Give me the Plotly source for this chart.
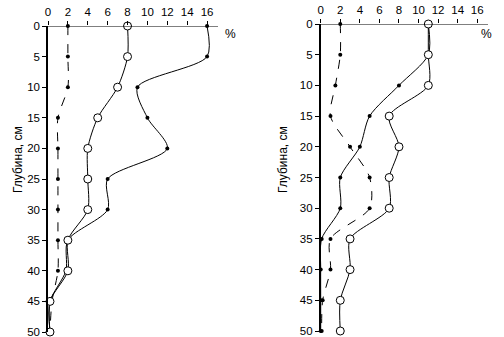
import plotly.graph_objects as go

depth = [0, 5, 10, 15, 20, 25, 30, 35, 40, 45, 50]
x_ticks = [0, 2, 4, 6, 8, 10, 12, 14, 16]
y_ticks = [0, 5, 10, 15, 20, 25, 30, 35, 40, 45, 50]

# Left panel
left_dashed = [2, 2, 2, 1, 1, 1, 1, 1, 1, 0.4, 0.2]
left_open = [8, 8, 7, 5, 4, 4, 4, 2, 2, 0.2, 0.2]
left_filled = [16, 16, 9, 10, 12, 6, 6, 2, 1.8, 0.2, 0.2]

# Right panel
right_dashed = [2, 2, 1.5, 1, 3, 5, 5, 1, 1, 0.2, 0.1]
right_filled = [11, 11, 8, 5, 4, 2, 2, 0.1, 0, 0, 0]
right_open = [11, 11, 11, 7, 8, 7, 7, 3, 3, 2, 2]

FONT = "Liberation Sans, Arial, sans-serif"

W, H = 504, 337

def px(x):
    return x / W

def py(y):
    return 1 - y / H

fig = go.Figure()

def add(x, xa, ya, dash, marker):
    if marker == "open":
        m = dict(symbol="circle", size=8, color="white", line=dict(color="black", width=1))
    else:
        m = dict(symbol="circle", size=4, color="black")
    fig.add_trace(go.Scatter(
        x=x, y=depth, xaxis=xa, yaxis=ya, mode="lines+markers",
        line=dict(color="black", width=1, dash=dash, shape="spline", smoothing=0.8),
        marker=m, cliponaxis=False, showlegend=False))

add(left_dashed, "x", "y", "dash", "filled")
add(left_filled, "x", "y", "solid", "filled")
add(left_open, "x", "y", "solid", "open")
add(right_dashed, "x2", "y2", "dash", "filled")
add(right_filled, "x2", "y2", "solid", "filled")
add(right_open, "x2", "y2", "solid", "open")

xcommon = dict(range=[0, 17.1], tickvals=x_ticks, side="top", showgrid=False, zeroline=False,
               showline=False, ticks="outside", ticklen=4, tickcolor="black", automargin=False,
               ticklabeloverflow="allow",
               tickfont=dict(family=FONT, size=11.5, color="black"))
ycommon = dict(range=[50, 0], tickvals=y_ticks, showgrid=False, zeroline=False, automargin=False,
               showline=True, linecolor="black", linewidth=1.5, ticks="outside", ticklen=4,
               ticklabeloverflow="allow",
               tickcolor="black", tickfont=dict(family=FONT, size=11.5, color="black"))

fig.update_layout(
    width=W, height=H, margin=dict(l=0, r=0, t=0, b=0),
    plot_bgcolor="white", paper_bgcolor="white",
    xaxis=dict(domain=[px(48), px(218)], anchor="y", **xcommon),
    yaxis=dict(domain=[py(332), py(26)], anchor="x", **ycommon),
    xaxis2=dict(domain=[px(320.7), px(488)], anchor="y2", **xcommon),
    yaxis2=dict(domain=[py(331), py(24)], anchor="x2", **ycommon),
)

# horizontal top axis lines at depth 0
fig.add_shape(type="line", xref="x", yref="y", x0=0, x1=17.1, y0=0, y1=0,
              line=dict(color="black", width=1))
fig.add_shape(type="line", xref="x2", yref="y2", x0=0, x1=17.1, y0=0, y1=0,
              line=dict(color="black", width=1))

fig.add_annotation(text="%", xref="paper", yref="paper", x=px(230), y=py(25),
                   showarrow=False, font=dict(family=FONT, size=12, color="black"))
fig.add_annotation(text="%", xref="paper", yref="paper", x=px(494), y=py(25),
                   showarrow=False, font=dict(family=FONT, size=12, color="black"))
fig.add_annotation(text="Глубина, см", xref="paper", yref="paper", x=px(9), y=py(160),
                   textangle=-90, showarrow=False, font=dict(family=FONT, size=12, color="black"))
fig.add_annotation(text="Глубина, см", xref="paper", yref="paper", x=px(283), y=py(160),
                   textangle=-90, showarrow=False, font=dict(family=FONT, size=12, color="black"))

fig.write_html("out.html", config={"displayModeBar": False},
               post_script="document.body.style.margin='0';document.body.style.overflow='hidden';")
